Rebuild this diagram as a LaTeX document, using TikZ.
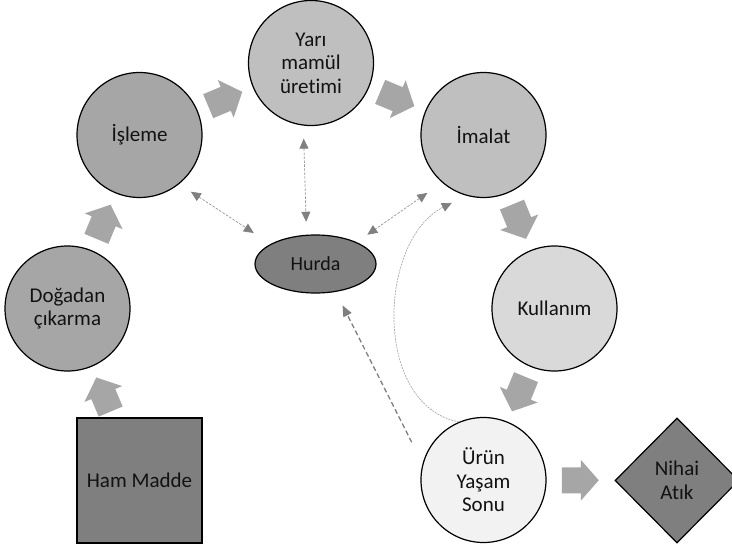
\documentclass[tikz,border=0pt]{standalone}
\usepackage{fontspec}
\setmainfont{Carlito}[Ligatures=NoCommon]
\usetikzlibrary{shapes.geometric,arrows.meta,calc}
\definecolor{cA}{HTML}{A6A6A6}
\definecolor{cB}{HTML}{BFBFBF}
\definecolor{cC}{HTML}{D9D9D9}
\definecolor{cD}{HTML}{F2F2F2}
\definecolor{cDark}{HTML}{7F7F7F}
\definecolor{arrowgray}{HTML}{A6A6A6}
\definecolor{dashgray}{HTML}{969696}
\definecolor{tipgray}{HTML}{808080}
\definecolor{txt}{HTML}{121212}
\tikzset{
  lbl/.style={font=\fontsize{21}{23.5}\selectfont, text=txt, align=center},
  circ/.style={circle, draw=black, line width=1.2pt, minimum size=125pt, inner sep=0pt, lbl},
  barrow/.pic={\fill[arrowgray] (-18.5,-13) -- (0.5,-13) -- (0.5,-20.5) -- (18.5,0) -- (0.5,20.5) -- (0.5,13) -- (-18.5,13) -- cycle;},
  dline/.style={draw=dashgray, line width=0.7pt, dash pattern=on 2.5pt off 1.5pt, {Triangle[length=10pt,width=9pt,color=tipgray]}-{Triangle[length=10pt,width=9pt,color=tipgray]}},
  cline/.style={draw=dashgray!80, line width=0.7pt, dash pattern=on 2pt off 1pt, -{Triangle[length=10pt,width=9pt,color=tipgray]}},
  tline/.style={draw=tipgray, line width=1.3pt, dash pattern=on 5pt off 3pt, -{Triangle[length=11pt,width=9pt,color=tipgray]}}
}
\begin{document}
\begin{tikzpicture}[x=1pt,y=-1pt]
\clip (0,0) rectangle (732,547);
\fill[white] (0,0) rectangle (732,547);

\node[circ, fill=cA] (dog) at (67.5,308.5) {Doğadan\\çıkarma};
\node[circ, fill=cA] (isl) at (139.5,135) {İşleme};
\node[circ, fill=cB] (yari) at (311,63) {Yarı\\mamül\\üretimi};
\node[circ, fill=cB] (ima) at (483.5,135) {İmalat};
\node[circ, fill=cC] (kul) at (554.5,308.5) {Kullanım};
\node[circ, fill=cD] (urun) at (483.5,480) {Ürün\\Yaşam\\Sonu};
\node[rectangle, draw=black, line width=1.2pt, fill=cDark, minimum size=125pt, inner sep=0pt, lbl] (ham) at (139.5,480.5) {Ham Madde};
\node[diamond, draw=black, line width=1.2pt, fill=cDark, minimum width=124pt, minimum height=125pt, inner sep=0pt, lbl] (nih) at (677,480.5) {Nihai\\Atık};
\node[ellipse, draw=black, line width=1.2pt, fill=cDark, minimum width=121pt, minimum height=58pt, inner sep=0pt, lbl, font=\fontsize{20}{22}\selectfont] (hur) at (315.5,264) {Hurda};

\pic[rotate=112.8] at ($(ham)!0.5!(dog)$) {barrow};
\pic[rotate=67.4] at ($(dog)!0.5!(isl)$) {barrow};
\pic[rotate=22.8] at ($(isl)!0.5!(yari)$) {barrow};
\pic[rotate=-22.7] at ($(yari)!0.5!(ima)$) {barrow};
\pic[rotate=-67.7] at ($(ima)!0.5!(kul)$) {barrow};
\pic[rotate=-112.4] at ($(kul)!0.5!(urun)$) {barrow};
\pic[rotate=0] at ($(urun)!0.5!(nih)$) {barrow};

\draw[dline, shorten <=14pt, shorten >=20pt] (isl.-51.6) -- (hur.156);
\draw[dline, shorten <=13pt, shorten >=13pt] (yari.-97.7) -- (hur.107);
\draw[dline, shorten <=18pt, shorten >=13pt] (ima.229.2) -- (hur.28.5);
\draw[tline, shorten <=24pt, shorten >=15pt] (urun.165.6) -- (hur.-54.4);
\draw[cline, shorten >=16pt] (urun.113) .. controls (372,405) and (378,240) .. (ima.254);
\end{tikzpicture}
\end{document}
